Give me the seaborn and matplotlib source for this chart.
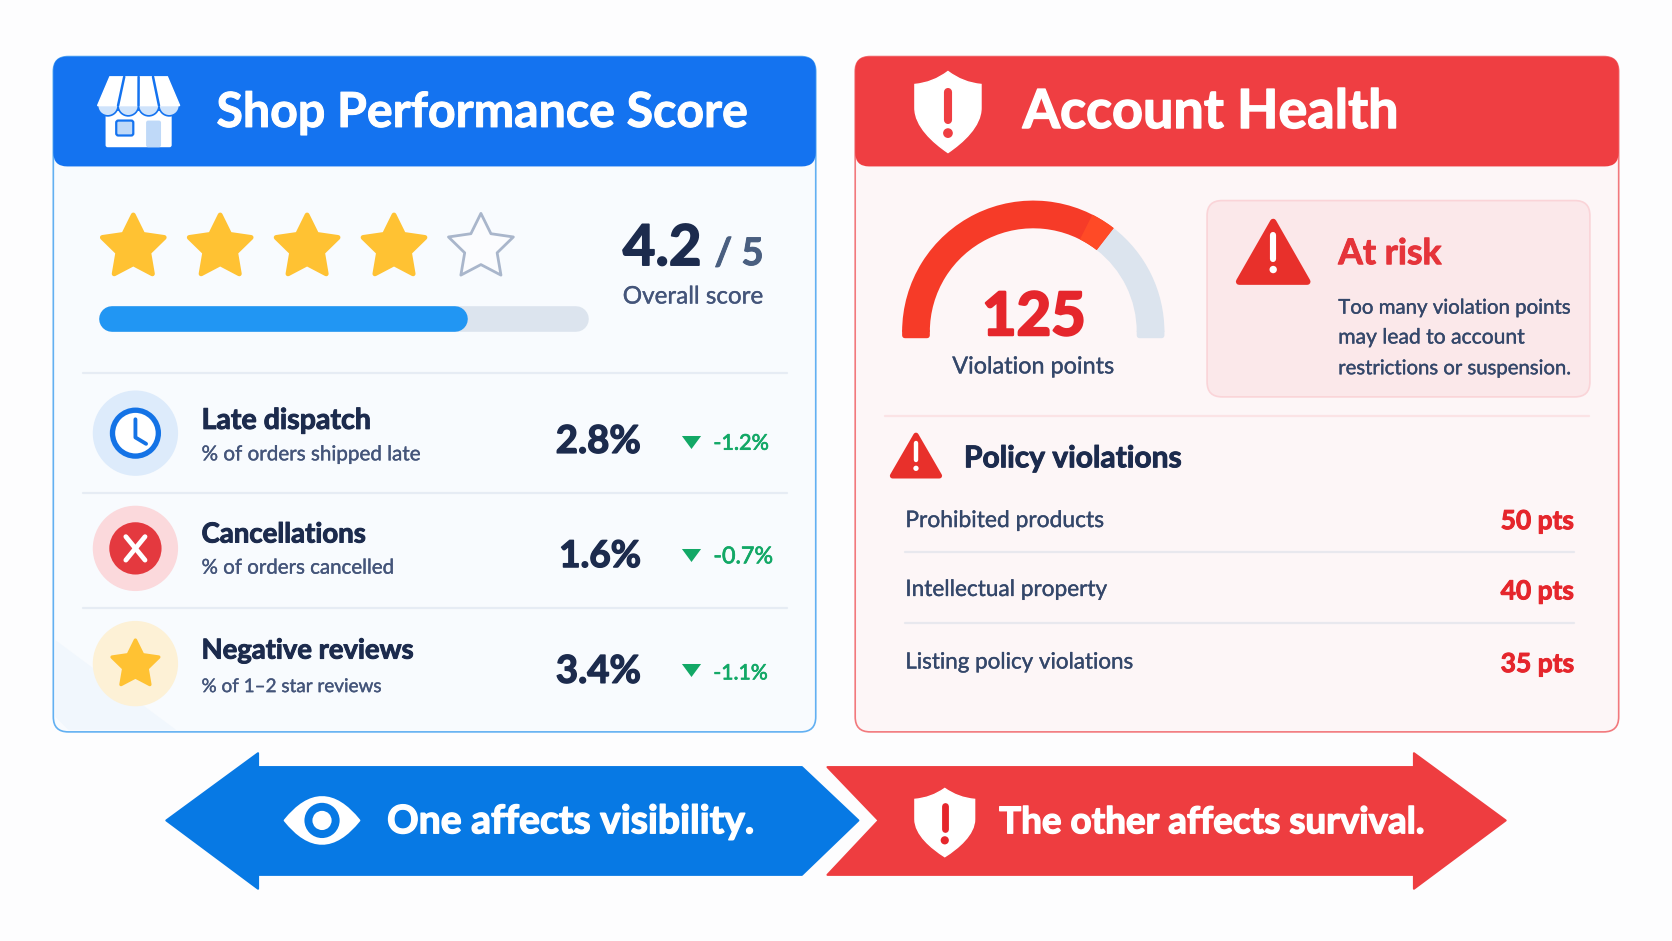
import numpy as np
import matplotlib
matplotlib.use("Agg")
import matplotlib.pyplot as plt
import matplotlib.patheffects as pe
import seaborn as sns
from matplotlib.patches import FancyBboxPatch, Polygon, Circle, Wedge, PathPatch
from matplotlib.path import Path

# values
star_fill = [1, 1, 1, 1, 0]
score_text = "4.2"
score_max = "/ 5"
progress_share = 0.754
metric_names = ["Late dispatch", "Cancellations", "Negative reviews"]
metric_subs = ["% of orders shipped late", "% of orders cancelled", "% of 1\u20132 star reviews"]
metric_values = ["2.8%", "1.6%", "3.4%"]
metric_deltas = ["-1.2%", "-0.7%", "-1.1%"]
gauge_share = 0.71
gauge_text = "125"
risk_lines = ["Too many violation points", "may lead to account", "restrictions or suspension."]
violation_names = ["Prohibited products", "Intellectual property", "Listing policy violations"]
violation_points = ["50 pts", "40 pts", "35 pts"]

# colours
BLUE = "#1473F0"
RED = "#EF3E42"
NAVY = "#1C2B4D"
SLATE = "#44557A"
GOLD = "#FFC233"
GREEN = "#12A866"
HOT = "#E5262C"

sns.set_theme(style="white")
plt.rcParams["font.family"] = ["Lato", "DejaVu Sans"]

fig = plt.figure(figsize=(16.72, 9.41), dpi=100, facecolor="#FDFDFE")
ax = fig.add_axes([0, 0, 1, 1])
ax.set_xlim(0, 1568)
ax.set_ylim(882, 0)
ax.set_autoscale_on(False)
ax.axis("off")
LW = 0.768  # one picture unit in points


def box(x0, y0, x1, y1, r, fc, ec="none", lw=0, z=1):
    p = FancyBboxPatch((x0 + r, y0 + r), x1 - x0 - 2 * r, y1 - y0 - 2 * r,
                       boxstyle=f"round,pad={r},rounding_size={r}",
                       fc=fc, ec=ec, lw=lw, zorder=z)
    ax.add_patch(p)


def label(x, base, s, width, color, weight="normal", ha="left", heavy=None):
    # size is tuned so the text takes the same width as in the picture
    t = ax.text(x, base, s, color=color, fontweight=weight, ha=ha, va="baseline", fontsize=20, zorder=6)
    w = t.get_window_extent(fig.canvas.get_renderer()).width
    t.set_fontsize(20 * width * 1672 / 1568 / w)
    if heavy is None:
        heavy = 0.7 if weight == "bold" else 0.25
    t.set_path_effects([pe.withStroke(linewidth=heavy, foreground=color)])
    return t


def hline(x0, x1, y, color, lw=1.6):
    sns.lineplot(x=[x0, x1], y=[y, y], color=color, lw=lw, ax=ax, legend=False, zorder=2)


def star(cx, cy, r, fc, ec=None, lw=3):
    ang = np.deg2rad(np.arange(10) * 36)
    rad = np.where(np.arange(10) % 2 == 0, r, r * 0.5)
    pts = np.c_[cx + rad * np.sin(ang), cy - rad * np.cos(ang)]
    ax.add_patch(Polygon(pts, closed=True, fc=fc, ec=ec or fc, lw=lw, joinstyle="round", zorder=4))


def shield(cx, cy, w, h, fc, mark):
    v = np.array([(0, -1), (.45, -.72), (1, -.68), (1, -.1), (1, .35), (.45, .75), (0, 1),
                  (-.45, .75), (-1, .35), (-1, -.1), (-1, -.68), (-.45, -.72), (0, -1), (0, -1)])
    c = [Path.MOVETO, Path.CURVE3, Path.CURVE3, Path.LINETO, Path.CURVE4, Path.CURVE4, Path.CURVE4,
         Path.CURVE4, Path.CURVE4, Path.CURVE4, Path.LINETO, Path.CURVE3, Path.CURVE3, Path.CLOSEPOLY]
    ax.add_patch(PathPatch(Path(v * [w / 2, h / 2] + [cx, cy], c), fc=fc, ec=fc, lw=1, zorder=4))
    bang(cx, cy - h * .05, h * .2, h * .1, mark)


def bang(cx, cy, half, thick, color):
    ax.plot([cx, cx], [cy - half, cy + half * .75], color=color, lw=thick * LW,
            solid_capstyle="round", zorder=5)
    ax.add_patch(Circle((cx, cy + half * 1.55), thick * .6, fc=color, ec="none", zorder=5))


def alarm(x0, x1, y0, y1, color, lw=6):
    cx = (x0 + x1) / 2
    ax.add_patch(Polygon([(cx, y0 + 4), (x0 + 4, y1 - 4), (x1 - 4, y1 - 4)], closed=True, fc=color, ec=color,
                         lw=lw * LW, joinstyle="round", zorder=4))
    h = y1 - y0
    bang(cx, y0 + h * .45, h * .2, h * .09, "white")


# ---- left panel
box(50, 53, 765, 686, 14, "#F8FBFE", "#62B0F2", 1.2)
ax.add_patch(Polygon([(52, 600), (165, 684), (64, 684), (52, 672)], closed=True, fc="#F1F7FD", ec="none", zorder=1.2))
box(50, 53, 765, 156, 13, BLUE, z=2)
label(203, 119, "Shop Performance Score", 498, "white", "bold")

# store icon
box(99, 104, 161, 138, 2, "white", z=3)
box(109, 113, 125, 127, 2, "#BFD9F8", "#1473F0", 1.6, z=4)
box(137, 113, 151, 138, 2, "#BFD9F8", z=4)
for i in range(4):
    xs = 91.5 + 9.6 * (2 * i + 1)
    ax.add_patch(Circle((xs, 99), 9.6, fc="#CFE3FB", ec=BLUE, lw=1.2, zorder=4))
ax.add_patch(Polygon([(103, 72), (157, 72), (168.5, 99), (91.5, 99)], closed=True, fc="white", ec="white", lw=1, zorder=5))
for i in (1, 2, 3):
    ax.plot([103 + 13.5 * i, 91.5 + 19.2 * i], [72, 99], color=BLUE, lw=1.8, zorder=5.5)

# rating
for i, on in enumerate(star_fill):
    if on:
        star(125 + i * 81.5, 232, 30.5, GOLD, lw=3.5)
    else:
        star(125 + i * 81.5, 232, 32, "#FBFCFE", "#A9B6CB", 2)

label(584, 248.5, score_text, 74, NAVY, "bold", heavy=1.2)
label(670, 248.5, score_max, 46, "#4A5F80", "bold")
label(584, 284.5, "Overall score", 132, SLATE)

# progress bar, round caps add half the thickness on each side
TRACK_L, TRACK_R, THICK = 93, 552, 24
hline(TRACK_L + THICK / 2, TRACK_R - THICK / 2, 299, "#DCE4EE", THICK * LW)
fill_end = TRACK_L + (TRACK_R - TRACK_L) * progress_share
hline(TRACK_L + THICK / 2, fill_end - THICK / 2, 299, "#2196F3", THICK * LW)
for ln in ax.lines[-2:]:
    ln.set_solid_capstyle("round")

for y in (350, 462, 570):
    hline(78, 738, y, "#E6ECF4")

row_icon_y = [406, 514, 622]
row_title_y = [402, 508.5, 617.3]
row_sub_y = [431.5, 537.7, 648.7]
row_val_y = [424.5, 531.5, 640]
row_delta_y = [421.5, 528, 636.8]
row_tri_y = [414, 520, 628]
title_w = [159, 154, 199]
sub_w = [206, 181, 169]
val_w = [80, 77, 80]
delta_w = [52, 56, 51]
halo = ["#DDEBFB", "#FBD9DC", "#FDF1D6"]

for i in range(3):
    ax.add_patch(Circle((127, row_icon_y[i]), 40, fc=halo[i], ec="none", zorder=3))
    label(189, row_title_y[i], metric_names[i], title_w[i], NAVY, "bold")
    label(189, row_sub_y[i], metric_subs[i], sub_w[i], SLATE)
    label(601, row_val_y[i], metric_values[i], val_w[i], NAVY, "bold", ha="right", heavy=1.0)
    label(669, row_delta_y[i], metric_deltas[i], delta_w[i], GREEN, heavy=0.5)

tri_marker = [(-1, .68), (1, .68), (0, -.68)]
sns.scatterplot(x=[648, 648, 648], y=row_tri_y, marker=tri_marker, s=190, color=GREEN, linewidth=0,
                ax=ax, legend=False, zorder=5)

# clock
ax.add_patch(Circle((127, 406), 21.5, fc="white", ec="#1473E6", lw=5 * LW, zorder=4))
ax.plot([127, 127, 137], [393, 410, 416], color="#1473E6", lw=3.6 * LW, solid_capstyle="round",
        solid_joinstyle="round", zorder=5)
# cross
ax.add_patch(Circle((127, 514), 24.5, fc="#E4393F", ec="none", zorder=4))
for d in (1, -1):
    ax.plot([118, 136], [514 - 11 * d, 514 + 11 * d], color="white", lw=4.5 * LW, solid_capstyle="round", zorder=5)
star(127, 623, 23, GOLD, lw=2.5)

# ---- right panel
box(802, 53, 1518, 686, 14, "#FDF6F7", "#F2797D", 1.2)
box(802, 53, 1518, 156, 13, RED, z=2)
label(959, 120, "Account Health", 352, "white", "bold", heavy=1.0)
shield(889, 105, 62, 76, "white", RED)

# gauge, screen y is flipped so the top half runs from 180 to 360 degrees
GX, GY, GR, GW = 969, 311, 123, 26
end_angle = 180 + 180 * gauge_share
ax.add_patch(Wedge((GX, GY), GR, end_angle, 360, width=GW, fc="#DCE4EE", ec="none", zorder=3))
ax.add_patch(Wedge((GX, GY), GR, 180, end_angle, width=GW, fc="#F63B28", ec="none", zorder=3))
ax.add_patch(Wedge((GX, GY), GR, end_angle - 11, end_angle, width=GW, fc="#FF4A26", ec="none", zorder=3.1))
box(GX - GR, GY - 3, GX - GR + GW, GY + 6, 3, "#F63B28", z=3)
box(GX + GR - GW, GY - 3, GX + GR, GY + 6, 3, "#DCE4EE", z=3)
label(969.5, 314, gauge_text, 97, HOT, "bold", ha="center", heavy=1.8)
label(969, 350, "Violation points", 152, "#34476A", ha="center")

# risk box
box(1132, 188, 1491, 372, 14, "#FBE8EA", "#FAD4D8", 1.2, z=2)
alarm(1158, 1230, 204, 268, "#E8302B")
label(1255, 247.6, "At risk", 97, "#E5343A", "bold")
risk_y = [294, 322, 350.8]
risk_w = [218, 175, 219]
for s, y, w in zip(risk_lines, risk_y, risk_w):
    label(1255, y, s, w, "#34476A")

hline(830, 1490, 390, "#FBE3E5")
alarm(833, 885, 404, 450, "#E8302B", 5)
label(904, 438, "Policy violations", 204, NAVY, "bold")

name_y = [494, 558.6, 626.6]
pts_y = [496, 561.8, 630]
name_w = [187, 190, 214]
for i in range(3):
    label(849, name_y[i], violation_names[i], name_w[i], "#34476A")
    label(1476, pts_y[i], violation_points[i], 69, HOT, "bold", ha="right")
for y in (517, 584):
    hline(849, 1476, y, "#E8E8EE")

# ---- arrows
blue_arrow = [(156, 769), (242, 706), (242, 719), (752, 719), (805, 769), (752, 820), (242, 820), (242, 833)]
red_arrow = [(1412, 769), (1326, 706), (1326, 719), (776, 719), (824, 769), (776, 820), (1326, 820), (1326, 833)]
ax.add_patch(Polygon(blue_arrow, closed=True, fc="#0779E4", ec="#0779E4", lw=1.5, joinstyle="round", zorder=2))
ax.add_patch(Polygon(red_arrow, closed=True, fc="#EE3D40", ec="#EE3D40", lw=1.5, joinstyle="round", zorder=2))

eye_v = np.array([(-1, 0), (0, -1.9), (1, 0), (0, 1.9), (-1, 0), (-1, 0)])
eye_c = [Path.MOVETO, Path.CURVE3, Path.CURVE3, Path.CURVE3, Path.CURVE3, Path.CLOSEPOLY]
ax.add_patch(PathPatch(Path(eye_v * [35, 23] + [302, 769], eye_c), fc="white", ec="white", lw=1.5,
                       joinstyle="round", zorder=4))
ax.add_patch(Circle((302, 769), 16.5, fc="#0779E4", ec="none", zorder=5))
ax.add_patch(Circle((302, 769), 9, fc="white", ec="none", zorder=6))
shield(886, 771, 56, 64, "white", "#E5262C")

label(363, 781, "One affects visibility.", 345, "white", "bold", heavy=1.0)
label(937, 781, "The other affects survival.", 399, "white", "bold", heavy=1.0)

ax.set_xlim(0, 1568)
ax.set_ylim(882, 0)
ax.axis("off")
fig.savefig("out.png", dpi=100, facecolor=fig.get_facecolor())
plt.close(fig)
